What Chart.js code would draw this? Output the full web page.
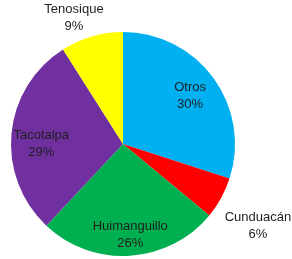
<!DOCTYPE html>
<html>
<head>
<meta charset="utf-8">
<script src="https://cdn.jsdelivr.net/npm/chart.js@4/dist/chart.umd.min.js"></script>
<style>
    html, body { margin: 0; padding: 0; background: #fff; }
    #wrap { width: 292px; height: 259px; position: relative; }
</style>
</head>
<body>
<div id="wrap"><canvas id="pieChart"></canvas></div>
<script>
// Datos del gráfico
const municipios = ['Otros', 'Cunduacán', 'Huimanguillo', 'Tacotalpa', 'Tenosique'];
const porcentajes = [30, 6, 26, 29, 9];
const colores = ['#00b0f0', '#ff0000', '#00b050', '#7030a0', '#ffff00'];

// posición de cada etiqueta: [fracción del radio, giro en grados]
const posEtiqueta = [[0.74, 0], [1.405, 2.2], [0.81, -1], [0.73, -4.7], [1.21, -5]];

const etiquetasPlugin = {
    id: 'etiquetas',
    afterDatasetsDraw(chart) {
        const ctx = chart.ctx;
        const meta = chart.getDatasetMeta(0);
        ctx.save();
        ctx.font = '13px "Liberation Sans", Arial, sans-serif';
        ctx.fillStyle = '#1e1e1e';
        ctx.textAlign = 'center';
        ctx.textBaseline = 'middle';
        meta.data.forEach((arc, i) => {
            const ang = (arc.startAngle + arc.endAngle) / 2 + posEtiqueta[i][1] * Math.PI / 180;
            const r = arc.outerRadius * posEtiqueta[i][0];
            const x = arc.x + Math.cos(ang) * r;
            const y = arc.y + Math.sin(ang) * r;
            ctx.fillText(chart.data.labels[i], x, y - 8);
            ctx.fillText(porcentajes[i] + '%', x, y + 9);
        });
        ctx.restore();
    }
};

new Chart(document.getElementById('pieChart'), {
    type: 'pie',
    data: {
        labels: municipios,
        datasets: [{
            data: porcentajes,
            backgroundColor: colores,
            borderWidth: 0
        }]
    },
    options: {
        responsive: true,
        maintainAspectRatio: false,
        animation: false,
        layout: {
            padding: { left: 11, right: 57, top: 32, bottom: 3 }
        },
        plugins: {
            legend: { display: false },
            tooltip: { enabled: false }
        }
    },
    plugins: [etiquetasPlugin]
});
</script>
</body>
</html>
